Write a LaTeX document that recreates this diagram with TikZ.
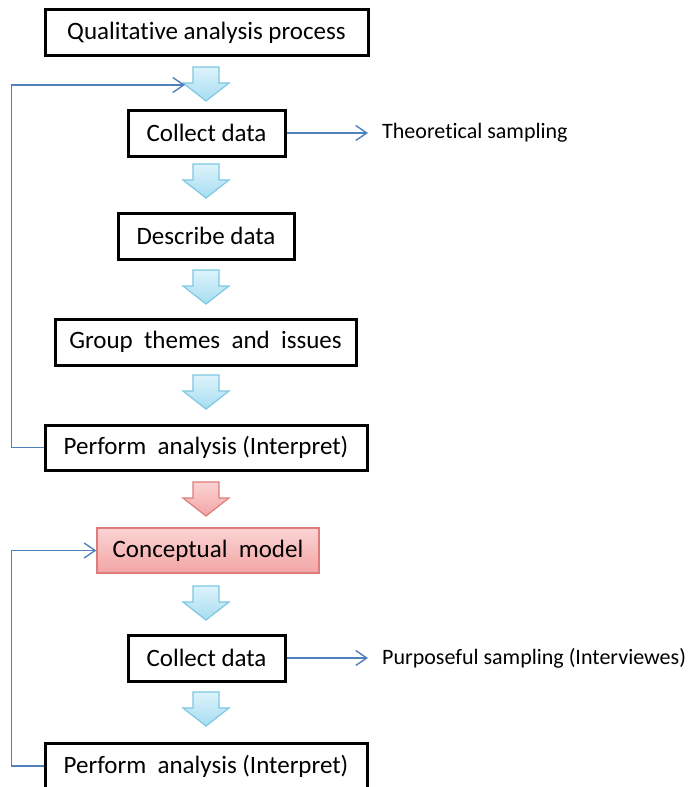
\documentclass[tikz,border=0pt]{standalone}
\usepackage{fontspec}
\setmainfont{Carlito}[Ligatures=NoCommon]
\usetikzlibrary{arrows.meta}

\definecolor{loopblue}{HTML}{4F81BD}
\definecolor{flowtop}{HTML}{DDF3FB}
\definecolor{flowbottom}{HTML}{A7DDF1}
\definecolor{flowedge}{HTML}{7CC8E2}
\definecolor{redtop}{HTML}{FBD3D3}
\definecolor{redbottom}{HTML}{F3A5A5}
\definecolor{rededge}{HTML}{DE7C7C}

\tikzset{
  stepbox/.style={draw=black, line width=3pt, minimum height=46pt, inner sep=0pt,
    font=\fontsize{25}{30}\selectfont},
  modelbox/.style={draw=rededge, line width=1.3pt, top color=redtop, bottom color=redbottom,
    minimum height=45pt, inner sep=0pt, font=\fontsize{25}{30}\selectfont},
  note/.style={anchor=west, inner sep=0pt, font=\fontsize{22}{26}\selectfont},
  feedback/.style={draw=loopblue, line width=1.4pt,
    -{Straight Barb[length=11pt,width=15pt,line width=1.4pt]}},
  sideline/.style={feedback, shorten >=14pt},
  flowblue/.style={draw=flowedge, line width=1.2pt, top color=flowtop, bottom color=flowbottom},
  flowred/.style={draw=rededge, line width=1.2pt, top color=redtop, bottom color=redbottom},
  pics/flowdown/.style={code={
    \path[pic actions] (-13,0) -- (13,0) -- (13,16) -- (23,16) -- (0,34)
      -- (-23,16) -- (-13,16) -- cycle;}},
}

\begin{document}
\begin{tikzpicture}[x=1pt, y=-1pt]
  \useasboundingbox (0,0) rectangle (692,787);
  \clip (0,0) rectangle (692,787);

  % process steps
  \node[stepbox, minimum width=323pt] (qap) at (206.5,32.5) {Qualitative analysis process};
  \node[stepbox, minimum width=157pt] (cd1) at (206.5,133) {Collect data};
  \node[stepbox, minimum width=176pt] (dd)  at (206,236) {Describe data};
  \node[stepbox, minimum width=301pt] (gt)  at (205.5,342) {Group\ \ themes\ \ and\ \ issues};
  \node[stepbox, minimum width=322pt, minimum height=45pt] (pa1) at (206,447.5) {Perform\ \ analysis (Interpret)};
  \node[modelbox, minimum width=222pt] (cm)  at (208,550.5) {Conceptual\ \ model};
  \node[stepbox, minimum width=157pt] (cd2) at (206.5,658) {Collect data};
  \node[stepbox, minimum width=322pt] (pa2) at (206,766) {Perform\ \ analysis (Interpret)};

  % sampling notes
  \node[note] (ts) at (382,133) {Theoretical sampling};
  \node[note] (ps) at (382,658) {Purposeful sampling (Interviewes)};

  % block arrows between the steps
  \pic[flowblue] at (206,67)  {flowdown};
  \pic[flowblue] at (206,164) {flowdown};
  \pic[flowblue] at (206,270) {flowdown};
  \pic[flowblue] at (206,375) {flowdown};
  \pic[flowred]  at (206,482) {flowdown};
  \pic[flowblue] at (206,586) {flowdown};
  \pic[flowblue] at (206,692) {flowdown};
  \coordinate (loopin) at (185,85);

  % sampling links
  \draw[sideline] (cd1.east) -- (ts.west);
  \draw[sideline] (cd2.east) -- (ps.west);

  % feedback loops
  \draw[feedback] (pa1.west) -- ++(-32,0) |- (loopin);
  \draw[feedback] (pa2.west) -- ++(-32,0) |- (cm.west);
\end{tikzpicture}
\end{document}
